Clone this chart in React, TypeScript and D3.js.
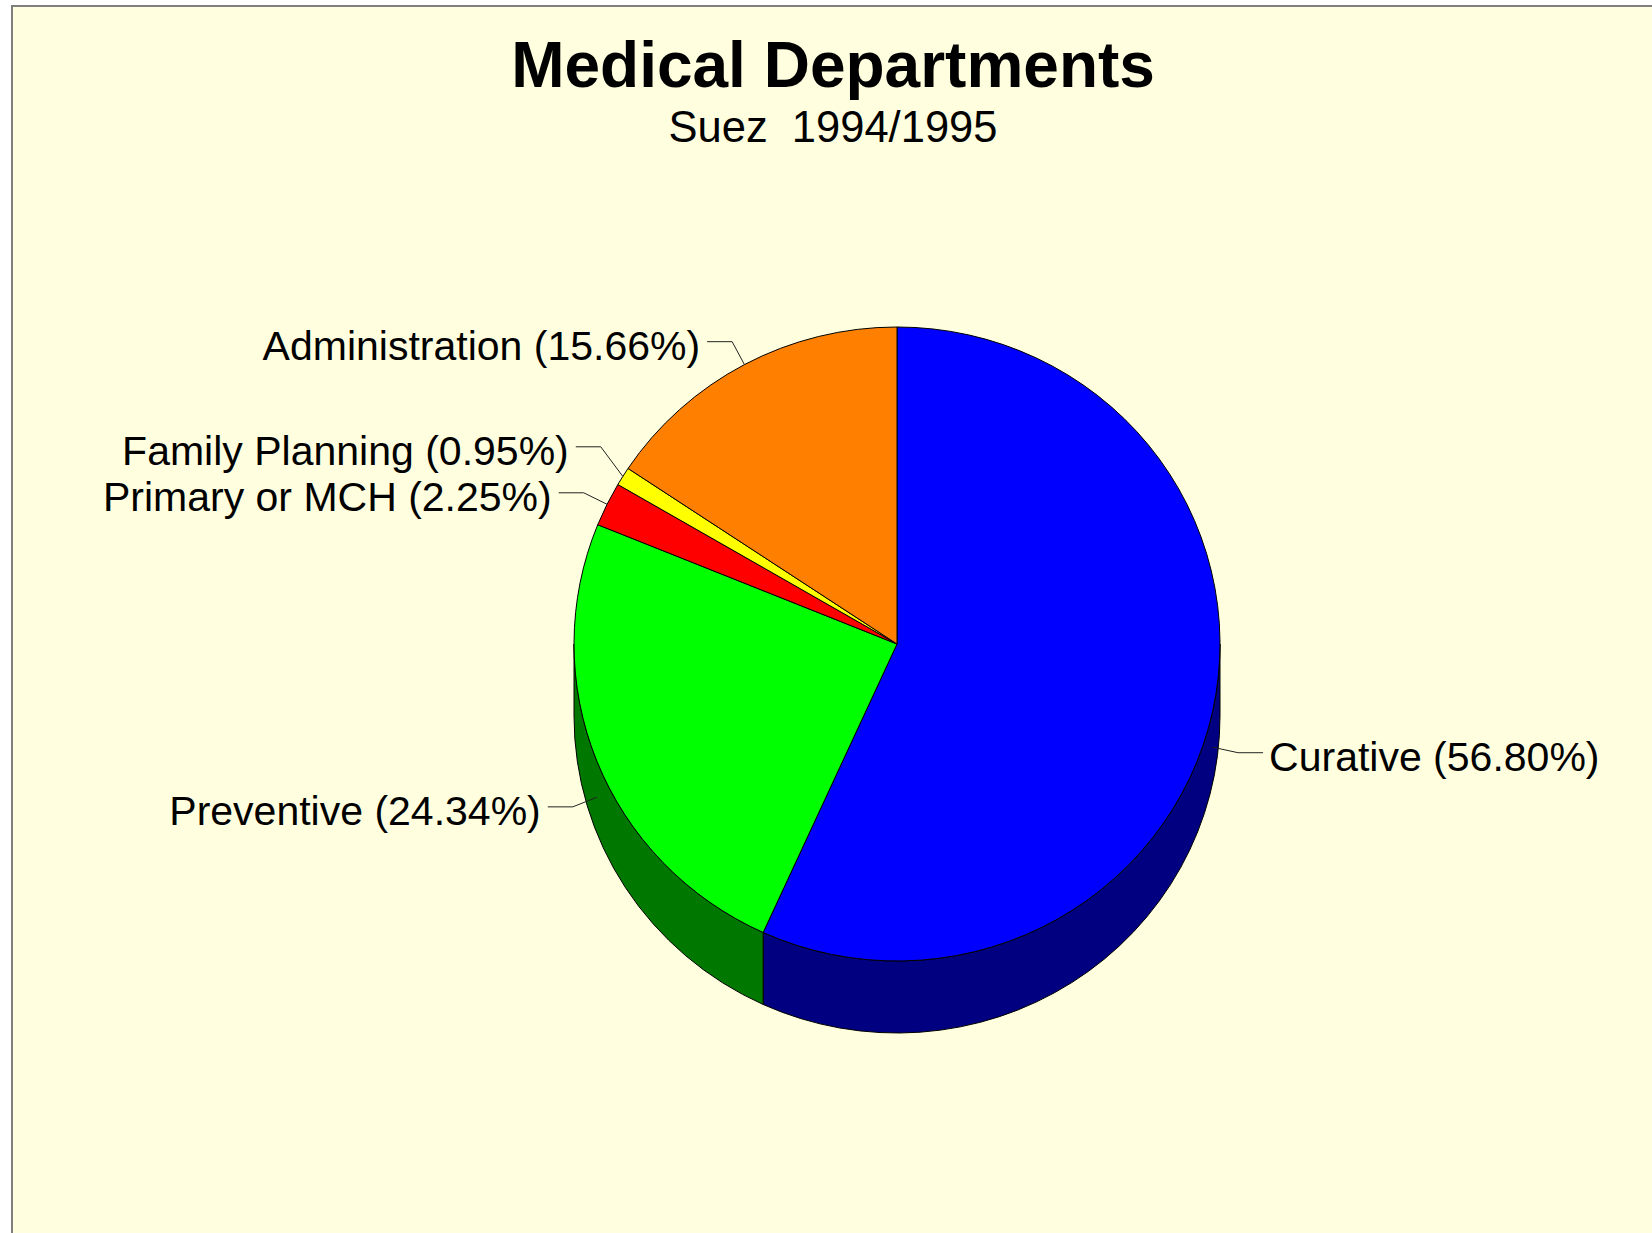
import * as d3 from "d3";
import { useMemo } from "react";

// chart data
const categories = [
  "Curative",
  "Preventive",
  "Primary or MCH",
  "Family Planning",
  "Administration",
];
const shares = [56.8, 24.34, 2.25, 0.95, 15.66];
const topColors = ["#0000ff", "#00ff00", "#ff0000", "#ffff00", "#ff8000"];
const sideColors = ["#000080", "#007800", "#800000", "#808000", "#804000"];

const title = "Medical Departments";
const subtitle = "Suez  1994/1995";

const W = 1652;
const H = 1233;
const cx = 897;
const cy = 644;
const rx = 323;
const ry = 317;
const depth = 72;
const font = "'Liberation Sans', Arial, Helvetica, sans-serif";

const pt = (a: number, dy = 0): [number, number] => [
  cx + rx * Math.sin(a),
  cy - ry * Math.cos(a) + dy,
];

export default function App() {
  const slices = useMemo(
    () =>
      d3
        .pie<number>()
        .sort(null)
        .value((d) => d)(shares),
    []
  );

  const arc = d3.arc<any>().innerRadius(0).outerRadius(rx);

  // side walls, only the front half (pi/2 .. 3pi/2) is visible
  const sides = slices
    .map((s, i) => {
      const a0 = Math.max(s.startAngle, Math.PI / 2);
      const a1 = Math.min(s.endAngle, (3 * Math.PI) / 2);
      if (a0 >= a1) return null;
      const p0 = pt(a0);
      const p1 = pt(a1);
      const q1 = pt(a1, depth);
      const q0 = pt(a0, depth);
      const d =
        `M${p0[0]},${p0[1]} A${rx},${ry} 0 0 1 ${p1[0]},${p1[1]} ` +
        `L${q1[0]},${q1[1]} A${rx},${ry} 0 0 0 ${q0[0]},${q0[1]} Z`;
      return { d, color: sideColors[i], key: i };
    })
    .filter(Boolean) as { d: string; color: string; key: number }[];

  // leader lines + labels
  const labels = slices.map((s, i) => {
    const mid = (s.startAngle + s.endAngle) / 2;
    const front = Math.cos(mid) < 0;
    const anchor = pt(mid, front ? depth / 2 : 0);
    const left = Math.sin(mid) < 0;
    const elbow: [number, number] = [
      anchor[0] + 26 * Math.sin(mid),
      anchor[1] - 26 * Math.cos(mid),
    ];
    return {
      i,
      left,
      anchor,
      elbow,
      text: `${categories[i]} (${shares[i].toFixed(2)}%)`,
    };
  });

  // keep labels on each side apart
  const minGap = 46;
  [true, false].forEach((side) => {
    const grp = labels
      .filter((l) => l.left === side)
      .sort((a, b) => b.elbow[1] - a.elbow[1]);
    for (let k = 1; k < grp.length; k++) {
      const lim = grp[k - 1].elbow[1] - minGap;
      if (grp[k].elbow[1] > lim) grp[k].elbow[1] = lim;
    }
  });

  return (
    <svg
      width={W}
      height={H}
      style={{ position: "absolute", left: 0, top: 0 }}
      fontFamily={font}
    >
      <rect x={0} y={0} width={W} height={H} fill="#ffffff" />
      <rect
        x={12}
        y={6}
        width={W + 20}
        height={H + 20}
        fill="#ffffe0"
        stroke="#7f7f7f"
        strokeWidth={2}
      />

      <text
        x={833}
        y={87}
        textAnchor="middle"
        fontSize={64}
        fontWeight="bold"
        fill="#000"
      >
        {title}
      </text>
      <text
        x={833}
        y={142}
        textAnchor="middle"
        fontSize={43.5}
        fill="#000"
        style={{ whiteSpace: "pre" }}
      >
        {subtitle}
      </text>

      <g>
        {sides.map((s) => (
          <path
            key={s.key}
            d={s.d}
            fill={s.color}
            stroke="#000"
            strokeWidth={1}
            strokeLinejoin="round"
          />
        ))}
      </g>

      <g transform={`translate(${cx},${cy}) scale(1,${ry / rx})`}>
        {slices.map((s, i) => (
          <path
            key={i}
            d={arc(s) as string}
            fill={topColors[i]}
            stroke="#000"
            strokeWidth={1}
            vectorEffect="non-scaling-stroke"
            strokeLinejoin="round"
          />
        ))}
      </g>

      <g>
        {labels.map((l) => {
          const hx = l.elbow[0] + (l.left ? -25 : 25);
          return (
            <g key={l.i}>
              <polyline
                points={`${l.anchor[0]},${l.anchor[1]} ${l.elbow[0]},${l.elbow[1]} ${hx},${l.elbow[1]}`}
                fill="none"
                stroke="#222"
                strokeWidth={1}
              />
              <text
                x={l.left ? hx - 7 : hx + 6}
                y={l.elbow[1] + 18}
                textAnchor={l.left ? "end" : "start"}
                fontSize={41}
                fill="#000"
              >
                {l.text}
              </text>
            </g>
          );
        })}
      </g>
    </svg>
  );
}
